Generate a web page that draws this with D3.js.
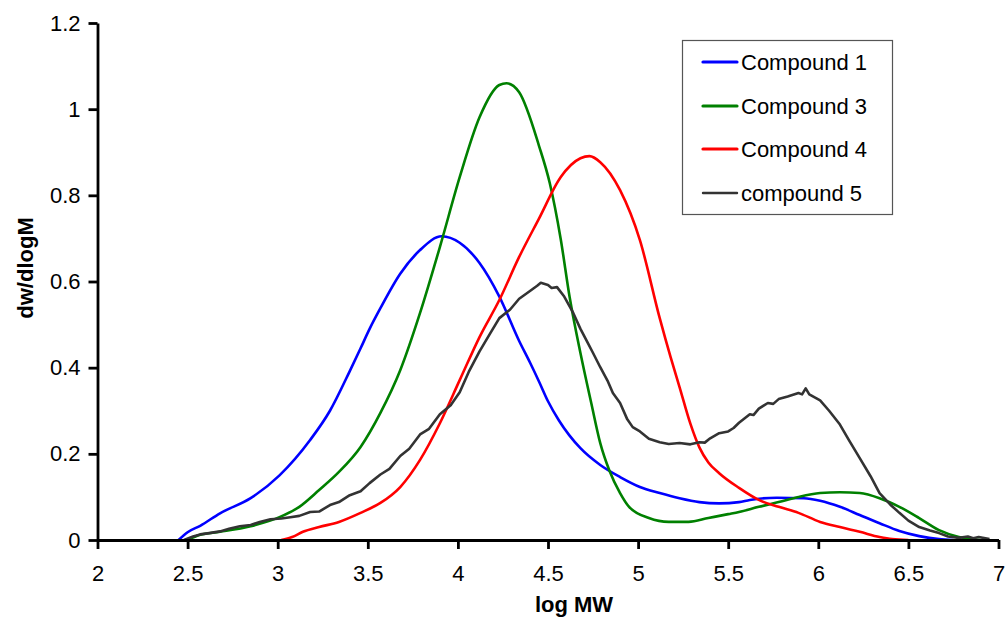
<!DOCTYPE html>
<html>
<head>
<meta charset="utf-8">
<script src="https://cdn.jsdelivr.net/npm/d3@7/dist/d3.min.js"></script>
<style>
  body { margin: 0; background: #fff; }
  svg text { font-family: "Liberation Sans", Arial, sans-serif; fill: #000; }
</style>
</head>
<body>
<script>
// tick labels
var xTicks = [2, 2.5, 3, 3.5, 4, 4.5, 5, 5.5, 6, 6.5, 7],
    yTicks = [0, 0.2, 0.4, 0.6, 0.8, 1, 1.2];

// Compound 1 (blue)
var c1X = [2.45, 2.5, 2.57, 2.68, 2.85, 3.01, 3.18, 3.29, 3.40, 3.46, 3.51, 3.57, 3.68, 3.79, 3.91, 4.01, 4.12, 4.23, 4.34, 4.40, 4.45, 4.50, 4.56, 4.68, 4.79, 4.90, 5.01, 5.12, 5.23, 5.34, 5.45, 5.56, 5.62, 5.77, 5.92, 6.01, 6.12, 6.23, 6.34, 6.45, 6.56, 6.67, 6.75];
var c1Y = [0, 0.018, 0.033, 0.062, 0.097, 0.15, 0.232, 0.30, 0.392, 0.445, 0.49, 0.538, 0.618, 0.673, 0.705, 0.69, 0.643, 0.565, 0.462, 0.412, 0.368, 0.322, 0.278, 0.213, 0.174, 0.146, 0.123, 0.109, 0.097, 0.088, 0.085, 0.088, 0.093, 0.098, 0.097, 0.091, 0.077, 0.058, 0.039, 0.021, 0.009, 0.002, 0];

// Compound 3 (green)
var c3X = [2.5, 2.57, 2.68, 2.85, 3.01, 3.12, 3.23, 3.34, 3.46, 3.57, 3.68, 3.79, 3.90, 4.01, 4.12, 4.23, 4.27, 4.34, 4.45, 4.51, 4.57, 4.62, 4.68, 4.74, 4.79, 4.84, 4.90, 4.95, 5.06, 5.17, 5.28, 5.39, 5.50, 5.56, 5.67, 5.78, 5.89, 6.01, 6.12, 6.23, 6.34, 6.45, 6.56, 6.67, 6.78, 6.9];
var c3Y = [0, 0.012, 0.019, 0.032, 0.053, 0.077, 0.116, 0.158, 0.216, 0.295, 0.394, 0.527, 0.68, 0.842, 0.981, 1.056, 1.06, 1.039, 0.915, 0.828, 0.70, 0.564, 0.434, 0.318, 0.225, 0.162, 0.109, 0.077, 0.051, 0.042, 0.042, 0.051, 0.06, 0.065, 0.077, 0.088, 0.10, 0.109, 0.111, 0.109, 0.097, 0.077, 0.051, 0.023, 0.007, 0];

// Compound 4 (red)
var c4X = [3.02, 3.08, 3.14, 3.23, 3.34, 3.46, 3.57, 3.68, 3.79, 3.90, 4.01, 4.12, 4.23, 4.34, 4.45, 4.57, 4.68, 4.73, 4.79, 4.90, 5.01, 5.12, 5.18, 5.23, 5.29, 5.34, 5.39, 5.45, 5.56, 5.67, 5.78, 5.89, 6.01, 6.12, 6.23, 6.34, 6.41, 6.5];
var c4Y = [0, 0.007, 0.019, 0.03, 0.042, 0.063, 0.086, 0.123, 0.186, 0.271, 0.371, 0.471, 0.557, 0.657, 0.746, 0.842, 0.886, 0.891, 0.877, 0.812, 0.696, 0.515, 0.425, 0.355, 0.27, 0.215, 0.18, 0.155, 0.121, 0.093, 0.077, 0.063, 0.042, 0.03, 0.019, 0.007, 0.002, 0];

// compound 5 (dark grey, noisy)
var c5X = [2.48, 2.53, 2.57, 2.62, 2.68, 2.73, 2.79, 2.85, 2.90, 2.96, 3.02, 3.07, 3.12, 3.18, 3.23, 3.29, 3.34, 3.40, 3.46, 3.51, 3.57, 3.62, 3.68, 3.73, 3.79, 3.84, 3.90, 3.96, 4.01, 4.06, 4.12, 4.18, 4.23, 4.29, 4.34, 4.40, 4.44, 4.46, 4.50, 4.52, 4.55, 4.59, 4.64, 4.68, 4.72, 4.75, 4.79, 4.83, 4.86, 4.90, 4.94, 4.97, 5.01, 5.06, 5.12, 5.17, 5.23, 5.29, 5.34, 5.37, 5.40, 5.45, 5.50, 5.53, 5.56, 5.62, 5.64, 5.67, 5.72, 5.75, 5.78, 5.83, 5.89, 5.91, 5.93, 5.95, 6.01, 6.06, 6.12, 6.17, 6.23, 6.29, 6.34, 6.40, 6.45, 6.50, 6.56, 6.62, 6.67, 6.72, 6.78, 6.83, 6.86, 6.89, 6.95];
var c5Y = [0, 0.008, 0.013, 0.016, 0.02, 0.026, 0.032, 0.035, 0.042, 0.048, 0.05, 0.053, 0.056, 0.065, 0.066, 0.081, 0.088, 0.104, 0.113, 0.132, 0.152, 0.165, 0.195, 0.212, 0.245, 0.258, 0.292, 0.313, 0.343, 0.39, 0.438, 0.48, 0.515, 0.535, 0.56, 0.578, 0.59, 0.597, 0.592, 0.585, 0.587, 0.565, 0.527, 0.49, 0.458, 0.434, 0.401, 0.37, 0.341, 0.318, 0.28, 0.262, 0.252, 0.235, 0.227, 0.223, 0.225, 0.222, 0.227, 0.226, 0.236, 0.248, 0.252, 0.26, 0.272, 0.292, 0.29, 0.305, 0.318, 0.316, 0.327, 0.333, 0.341, 0.338, 0.352, 0.338, 0.324, 0.30, 0.268, 0.232, 0.19, 0.148, 0.109, 0.082, 0.063, 0.045, 0.03, 0.022, 0.016, 0.008, 0.005, 0.008, 0.004, 0.007, 0.002];

var seriesNames = ["Compound 1", "Compound 3", "Compound 4", "compound 5"],
    seriesColors = ["#0000ff", "#008000", "#ff0000", "#333333"];

var series = [
    { name: seriesNames[0], xs: c1X, ys: c1Y, color: seriesColors[0], smooth: true },
    { name: seriesNames[1], xs: c3X, ys: c3Y, color: seriesColors[1], smooth: true },
    { name: seriesNames[2], xs: c4X, ys: c4Y, color: seriesColors[2], smooth: true },
    { name: seriesNames[3], xs: c5X, ys: c5Y, color: seriesColors[3], smooth: false }
];

// Margins
var margin = { top: 23, right: 7, bottom: 79, left: 97.5 },
    width = 1006 - margin.left - margin.right,
    height = 619 - margin.top - margin.bottom;

var svg = d3.select("body").
            append("svg").
            attr("width", 1006).
            attr("height", 619);

var g = svg.append("g").
            attr("transform", "translate(" + margin.left + "," + margin.top + ")");

var x = d3.scaleLinear().domain([2, 7]).range([0, width - 0.5]);
var y = d3.scaleLinear().domain([0, 1.2]).range([height, 0]);

// Lines
series.forEach(function(s) {
    var pts = s.xs.map(function(v, i) { return [v, s.ys[i]]; });
    var line = d3.line().
        x(function(d) { return x(d[0]); }).
        y(function(d) { return y(d[1]); }).
        curve(s.smooth ? d3.curveMonotoneX : d3.curveLinear);
    g.append("path").
        datum(pts).
        attr("fill", "none").
        attr("stroke", s.color).
        attr("stroke-width", 2.6).
        attr("stroke-linejoin", "round").
        attr("d", line);
});

// Axes
var xAxis = g.append("g").
    attr("transform", "translate(0," + height + ")").
    call(d3.axisBottom(x).tickValues(xTicks).tickFormat(String).tickSize(9).tickSizeOuter(0).tickPadding(16));

var yAxis = g.append("g").
    call(d3.axisLeft(y).tickValues(yTicks).tickFormat(String).tickSize(9).tickSizeOuter(0).tickPadding(8));

[xAxis, yAxis].forEach(function(a) {
    a.select(".domain").attr("stroke", "#000").attr("stroke-width", 2.8);
    a.selectAll(".tick line").attr("stroke", "#000").attr("stroke-width", 2.8);
    a.selectAll(".tick text").
        style("font-family", '"Liberation Sans", Arial, sans-serif').
        style("font-size", "22px").
        attr("fill", "#000");
});

// Axis titles
svg.append("text").
    attr("x", 574).
    attr("y", 612).
    attr("text-anchor", "middle").
    style("font-size", "22px").
    style("font-weight", "bold").
    text("log MW");

svg.append("text").
    attr("transform", "translate(33,268) rotate(-90)").
    attr("text-anchor", "middle").
    style("font-size", "22px").
    style("font-weight", "bold").
    text("dw/dlogM");

// Legend
var legend = svg.append("g");
legend.append("rect").
    attr("x", 682.5).
    attr("y", 40.5).
    attr("width", 210).
    attr("height", 174).
    attr("fill", "#fff").
    attr("stroke", "#555").
    attr("stroke-width", 1.2);

var legendY = [62, 106, 149, 193];
series.forEach(function(s, i) {
    legend.append("line").
        attr("x1", 703).attr("x2", 737).
        attr("y1", legendY[i]).attr("y2", legendY[i]).
        attr("stroke", s.color).
        attr("stroke-width", i == 3 ? 2.4 : 3.2).
        attr("stroke-linecap", "round");
    legend.append("text").
        attr("x", 741).
        attr("y", legendY[i]).
        attr("dy", "0.35em").
        style("font-size", "22px").
        text(s.name);
});
</script>
</body>
</html>
